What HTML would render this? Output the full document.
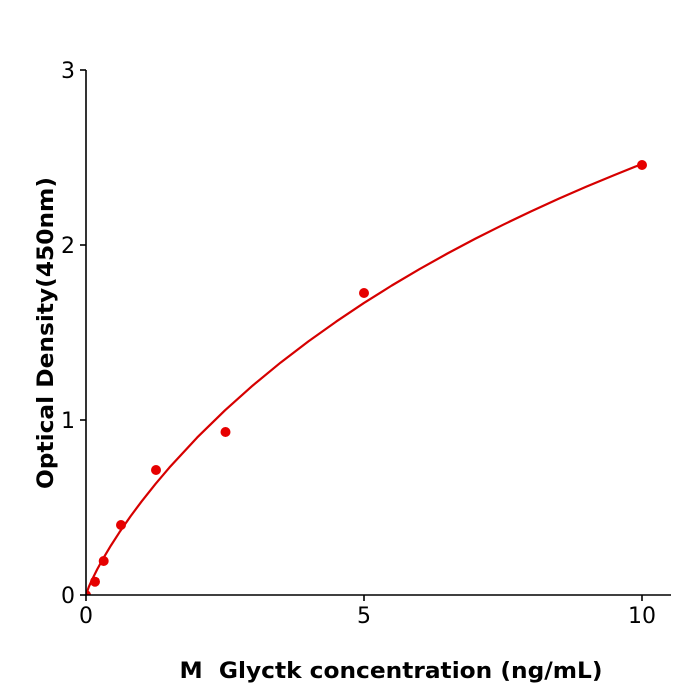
<!DOCTYPE html>
<html>
<head>
<meta charset="utf-8">
<style>
html,body{margin:0;padding:0;background:#fff;}
svg{display:block;}
text{font-family:"DejaVu Sans","Liberation Sans",sans-serif;fill:#000;}
</style>
</head>
<body>
<svg width="700" height="700" viewBox="0 0 700 700" xmlns="http://www.w3.org/2000/svg">
<defs>
<clipPath id="plot"><rect x="86" y="60" width="600" height="535"/></clipPath>
</defs>
<rect width="700" height="700" fill="#fff"/>

<g clip-path="url(#plot)">
<polyline fill="none" stroke="#d60000" stroke-width="2.2" stroke-linejoin="round" stroke-linecap="round"
 points="86,595 88.78,587.0 91.56,580.69 97.12,569.49 102.68,559.35 111.02,545.36 119.36,532.43 130.48,516.38 141.6,501.41 155.5,483.91 169.4,467.53 197.2,437.47 225,410.29 252.8,385.47 280.6,362.57 308.4,341.34 336.2,321.6 364,302.93 391.8,285.5 419.6,269.05 447.4,253.5 475.2,238.77 503,224.8 530.8,211.45 558.6,198.8 586.4,186.64 614.2,175.1 642,163.94"/>
<g fill="#e60000">
<circle cx="86" cy="595" r="5"/>
<circle cx="95" cy="581.7" r="5"/>
<circle cx="103.7" cy="561" r="5"/>
<circle cx="121" cy="525" r="5"/>
<circle cx="156" cy="470" r="5"/>
<circle cx="225.5" cy="432" r="5"/>
<circle cx="364" cy="293" r="5"/>
<circle cx="642" cy="165" r="5"/>
</g>
</g>

<!-- axes -->
<g stroke="#000" stroke-width="1.6" fill="none">
<line x1="86" y1="70" x2="86" y2="595.8"/>
<line x1="85.2" y1="595" x2="671" y2="595"/>
<line x1="80" y1="70" x2="86" y2="70"/>
<line x1="80" y1="245" x2="86" y2="245"/>
<line x1="80" y1="420" x2="86" y2="420"/>
<line x1="80" y1="595" x2="86" y2="595"/>
<line x1="86" y1="595" x2="86" y2="601"/>
<line x1="364" y1="595" x2="364" y2="601"/>
<line x1="642" y1="595" x2="642" y2="601"/>
</g>

<!-- tick labels -->
<g font-size="22" text-anchor="end">
<text x="75" y="78">3</text>
<text x="75" y="253">2</text>
<text x="75" y="428">1</text>
<text x="75" y="603">0</text>
</g>
<g font-size="22" text-anchor="middle">
<text x="86" y="623">0</text>
<text x="364" y="623">5</text>
<text x="642" y="623">10</text>
</g>

<!-- axis titles -->
<text x="391" y="678" font-size="22" font-weight="bold" text-anchor="middle" xml:space="preserve" textLength="423" lengthAdjust="spacingAndGlyphs">M  Glyctk concentration (ng/mL)</text>
<text transform="translate(53,333) rotate(-90)" font-size="22" font-weight="bold" text-anchor="middle" textLength="312" lengthAdjust="spacingAndGlyphs">Optical Density(450nm)</text>
</svg>
</body>
</html>
